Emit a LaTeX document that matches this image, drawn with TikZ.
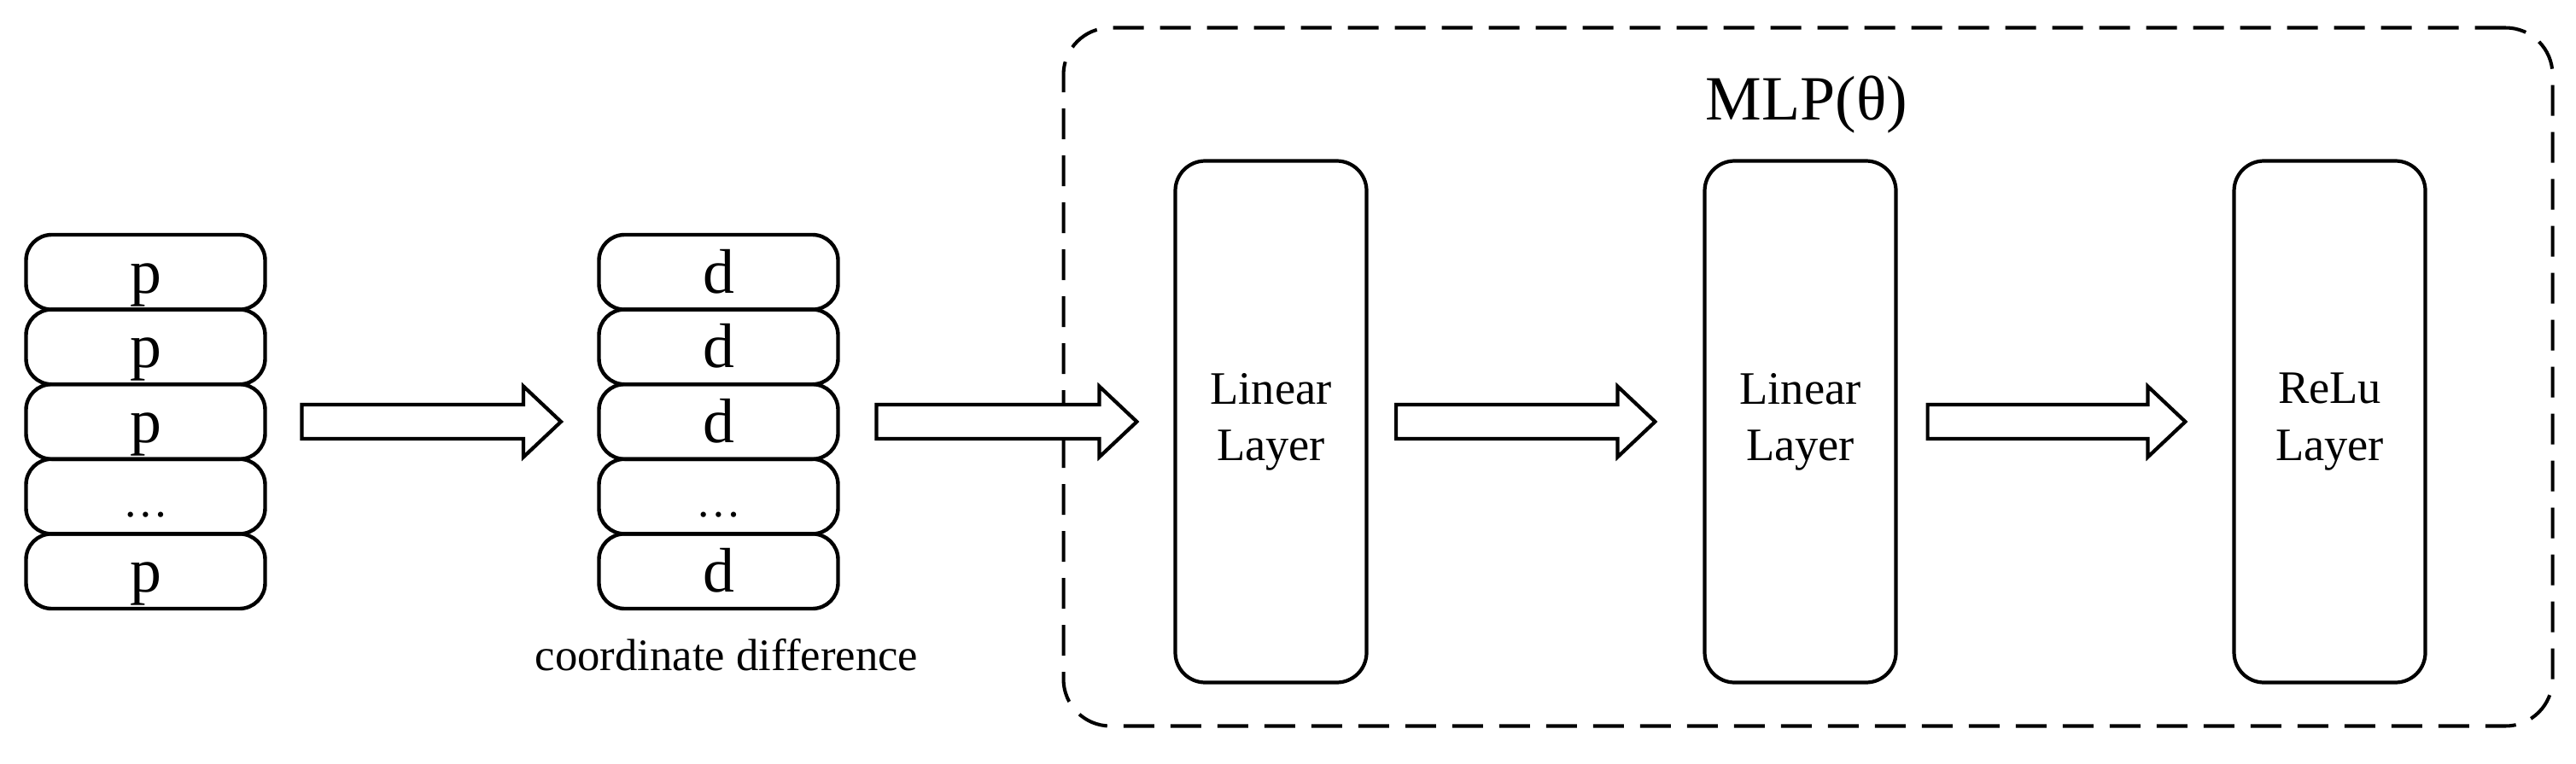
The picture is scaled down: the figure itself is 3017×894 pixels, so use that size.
\documentclass[tikz,border=0pt]{standalone}
\usepackage{fontspec}
\setmainfont{Liberation Serif}
\usetikzlibrary{positioning,calc}

\begin{document}
\begin{tikzpicture}
    [x=0.1mm, y=-0.1mm,
    cell/.style={draw, line width=1.25pt, rounded corners=3mm, outer sep=0pt,
      inner sep=0pt, minimum width=28mm, minimum height=8.76mm,
      text height=5.5mm, text depth=0.66mm, font=\fontsize{21}{25}\selectfont},
    dots/.style={cell, font=\fontsize{15}{18}\selectfont},
    layer/.style={draw, line width=1.2pt, rounded corners=3.5mm, minimum width=22.4mm,
      minimum height=61.1mm, align=center, font=\fontsize{15.5}{18.8}\selectfont},
    mlpbox/.style={draw, line width=1.15pt, dash pattern=on 3.6mm off 1.9mm,
      rounded corners=5.5mm, minimum width=174.4mm, minimum height=81.8mm},
    fat/.style={draw, fill=white, line width=1.2pt, line join=miter, to path={
      let \p1=(\tikztostart), \p2=(\tikztotarget) in
      (\x1,\y1+2mm) -- (\x2-4.4mm,\y1+2mm) -- (\x2-4.4mm,\y1+4.15mm) -- (\x2,\y1)
      -- (\x2-4.4mm,\y1-4.15mm) -- (\x2-4.4mm,\y1-2mm) -- (\x1,\y1-2mm) -- cycle}}]
    \useasboundingbox (0,0) rectangle (3017,894);
    \node[cell] (p1) at (170.5,318.8) {p};
    \node[cell, below=0pt of p1] (p2) {p};
    \node[cell, below=0pt of p2] (p3) {p};
    \node[dots, below=0pt of p3] (p4) {…};
    \node[cell, below=0pt of p4] (p5) {p};
    \node[cell] (d1) at (841.5,318.8) {d};
    \node[cell, below=0pt of d1] (d2) {d};
    \node[cell, below=0pt of d2] (d3) {d};
    \node[dots, below=0pt of d3] (d4) {…};
    \node[cell, below=0pt of d4] (d5) {d};
    \node[font=\fontsize{15}{18}\selectfont, anchor=base] (cdiff) at (851,785)
      {coordinate difference};
    \node[mlpbox] (mlp) at (2117.5,441.5) {};
    \node[font=\fontsize{21}{25}\selectfont, anchor=base] (mlptitle) at (2116,140)
      {MLP(θ)};
    \node[layer] (lin1) at (1488.5,494) {Linear\\Layer};
    \node[layer] (lin2) at (2108.5,494) {Linear\\Layer};
    \node[layer] (relu) at (2728.5,494) {ReLu\\Layer};
    \path[fat] ([xshift=4.3mm]p3.east) to ([xshift=-4.45mm]d3.west);
    \path[fat] ([xshift=4.5mm]d3.east) to ([xshift=-4.3mm]lin1.west);
    \path[fat] ([xshift=3.25mm]lin1.east) to ([xshift=-5.6mm]lin2.west);
    \path[fat] ([xshift=3.5mm]lin2.east) to ([xshift=-5.5mm]relu.west);
\end{tikzpicture}
\end{document}
